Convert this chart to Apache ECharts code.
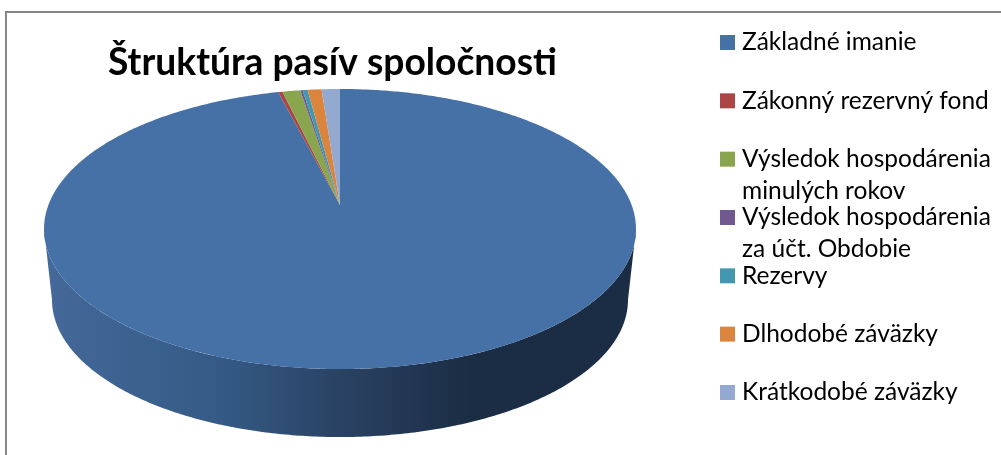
<!doctype html>
<html>
<head>
    <meta charset="utf-8">
    <title>Štruktúra pasív spoločnosti</title>
    <script src="https://cdn.jsdelivr.net/npm/echarts@6/dist/echarts.min.js"></script>
    <style>
        body{
            margin:0;
            padding:0;
            background:#fff;
        }
        #chart{
            width:1001px;
            height:455px;
        }
    </style>
</head>
<body>
<div id="chart"></div>
<script>
    var categories = [
        'Základné imanie',
        'Zákonný rezervný fond',
        'Výsledok hospodárenia\nminulých rokov',
        'Výsledok hospodárenia\nza účt. Obdobie',
        'Rezervy',
        'Dlhodobé záväzky',
        'Krátkodobé záväzky'
    ];
    // podiel v %, odcitane z obrazka
    var shares = [96.02, 0.28, 1.15, 0.15, 0.32, 0.90, 1.18];
    var colors = ['#4571a7', '#aa4643', '#89a54e', '#71588f', '#4198af', '#db843d', '#93a9cf'];

    // perspektiva 3D kolaca
    var CX = 340, K = 0.1715;
    var TOP = {cy: 205, a: 291.6, b: 135.9};
    var BOTTOM = {cy: 276.5, a: 283.7, b: 133};
    var total = shares.reduce(function(s, v){ return s + v; }, 0);

    function rim(angle, e){
        var w = 1 - K * Math.sin(angle);
        return [CX + e.a * Math.cos(angle) / w, e.cy + e.b * Math.sin(angle) / w];
    }

    function arc(from, to, e){
        var n = Math.max(2, Math.ceil(Math.abs(to - from) / 0.01));
        var pts = [];
        for(var i = 0; i <= n; i++){
            pts.push(rim(from + (to - from) * i / n, e));
        }
        return pts;
    }

    function sideColor(i){
        if(i === 0){
            return new echarts.graphic.LinearGradient(44, 0, 636, 0, [
                {offset: 0, color: '#44699a'},
                {offset: 0.3, color: '#345a85'},
                {offset: 0.5, color: '#2a4263'},
                {offset: 0.72, color: '#1b2d44'},
                {offset: 1, color: '#1b2d44'}
            ], true);
        }
        return echarts.color.lift(colors[i], -0.5);
    }

    function makeRender(i, before){
        return function(params, api){
            var start = -Math.PI / 2 + before / total * Math.PI * 2;
            var end = start + api.value(0) / total * Math.PI * 2;
            var children = [];

            // bocna stena je vidiet len vpredu
            var frontFrom = Math.asin(K) - Math.PI * 2, frontTo = Math.PI - Math.asin(K) - Math.PI * 2;
            for(var turn = 0; turn < 2; turn++){
                var a = Math.max(start, frontFrom + turn * Math.PI * 2);
                var b = Math.min(end, frontTo + turn * Math.PI * 2);
                if(b > a){
                    children.push({
                        type: 'polygon',
                        shape: {points: arc(a, b, TOP).concat(arc(b, a, BOTTOM))},
                        style: {fill: sideColor(i)}
                    });
                }
            }

            children.push({
                type: 'polygon',
                shape: {points: [[CX, TOP.cy]].concat(arc(start, end, TOP))},
                style: {fill: colors[i]}
            });
            return {type: 'group', children: children};
        };
    }

    var series = [];
    var sum = 0;
    for(var i = 0; i < categories.length; i++){
        series.push({
            name: categories[i],
            type: 'custom',
            coordinateSystem: 'none',
            itemStyle: {color: colors[i]},
            silent: true,
            renderItem: makeRender(i, sum),
            data: [[shares[i]]]
        });
        sum += shares[i];
    }

    var myChart = echarts.init(document.getElementById('chart'));
    myChart.setOption({
        animation: false,
        title: {
            text: 'Štruktúra pasív spoločnosti',
            left: 103,
            top: 40,
            textStyle: {
                fontFamily: 'Lato',
                fontSize: 37.2,
                fontWeight: 'bold',
                color: '#000'
            }
        },
        legend: {
            orient: 'vertical',
            left: 720,
            top: -5.5,
            padding: 0,
            icon: 'rect',
            itemWidth: 15,
            itemHeight: 15,
            itemGap: -37.67,
            selectedMode: false,
            data: categories,
            // prazdne riadky drzia prvy riadok textu na urovni znacky
            formatter: function(name){
                return '\n' + name + (name.indexOf('\n') < 0 ? '\n' : '');
            },
            textStyle: {
                fontFamily: 'Lato',
                fontSize: 24.5,
                lineHeight: 32,
                padding: [0, 0, 0, 2],
                color: '#000'
            }
        },
        graphic: [{
            type: 'polyline',
            shape: {points: [[6, 455], [6, 12], [1001, 12]]},
            style: {stroke: '#868686', lineWidth: 2, fill: null}
        }],
        series: series
    });
</script>
</body>
</html>
